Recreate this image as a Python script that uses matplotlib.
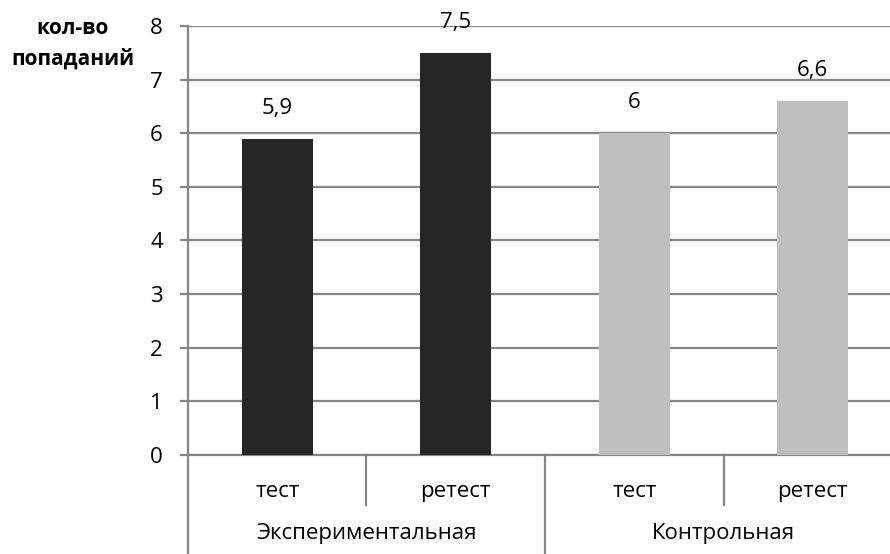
import matplotlib.pyplot as plt
from matplotlib.transforms import blended_transform_factory

plt.rcParams['font.family'] = ['Open Sans', 'DejaVu Sans']

# данные: кол-во попаданий по группам
groups = ['Экспериментальная', 'Контрольная']
stages = ['тест', 'ретест', 'тест', 'ретест']
values = [5.9, 7.5, 6.0, 6.6]
labels = ['5,9', '7,5', '6', '6,6']
colors = ['#262626', '#262626', '#bfbfbf', '#bfbfbf']

grid_c = '#868686'
fs = 16

fig = plt.figure(figsize=(8.9, 5.54), dpi=100)
ax = fig.add_axes([0.2112, 0.1787, 0.8023, 0.7744])

x = list(range(len(values)))
ax.bar(x, values, width=0.4, color=colors, zorder=3)
for xi, v, lab in zip(x, values, labels):
    ax.annotate(lab, (xi, v), xytext=(0, 22), textcoords='offset points',
                ha='center', va='center', fontsize=fs)

ax.set_xlim(-0.5, len(values) - 0.5)
ax.set_ylim(0, 8)
ax.set_yticks(range(9))
ax.yaxis.grid(True, color=grid_c, linewidth=1.6)
ax.set_axisbelow(True)
ax.set_xticks([])
ax.tick_params(axis='y', length=6, width=1.6, color=grid_c, pad=12, labelsize=fs)

for s in ['top', 'right']:
    ax.spines[s].set_visible(False)
ax.spines['left'].set_color(grid_c)
ax.spines['left'].set_linewidth(1.6)
ax.spines['bottom'].set_color(grid_c)
ax.spines['bottom'].set_linewidth(1.6)

# двухуровневая подпись оси категорий
tr = blended_transform_factory(ax.transData, ax.transAxes)
for xi, st in zip(x, stages):
    ax.text(xi, -0.085, st, transform=tr, ha='center', va='center', fontsize=fs)
for gi, g in enumerate(groups):
    ax.text(gi * 2 + 0.5, -0.183, g, transform=tr, ha='center', va='center', fontsize=fs)

# разделители между подписями
for xb in [0.5, 2.5]:
    ax.plot([xb, xb], [0, -0.117], transform=tr, color=grid_c, lw=1.6, clip_on=False)
for xb in [-0.5, 1.5, 3.5]:
    ax.plot([xb, xb], [0, -0.3], transform=tr, color=grid_c, lw=1.6, clip_on=False)

fig.text(0.082, 0.948, 'кол-во', ha='center', va='center', fontsize=fs - 1, fontweight='bold')
fig.text(0.082, 0.893, 'попаданий', ha='center', va='center', fontsize=fs - 1, fontweight='bold')

fig.savefig('out.png', dpi=100)
